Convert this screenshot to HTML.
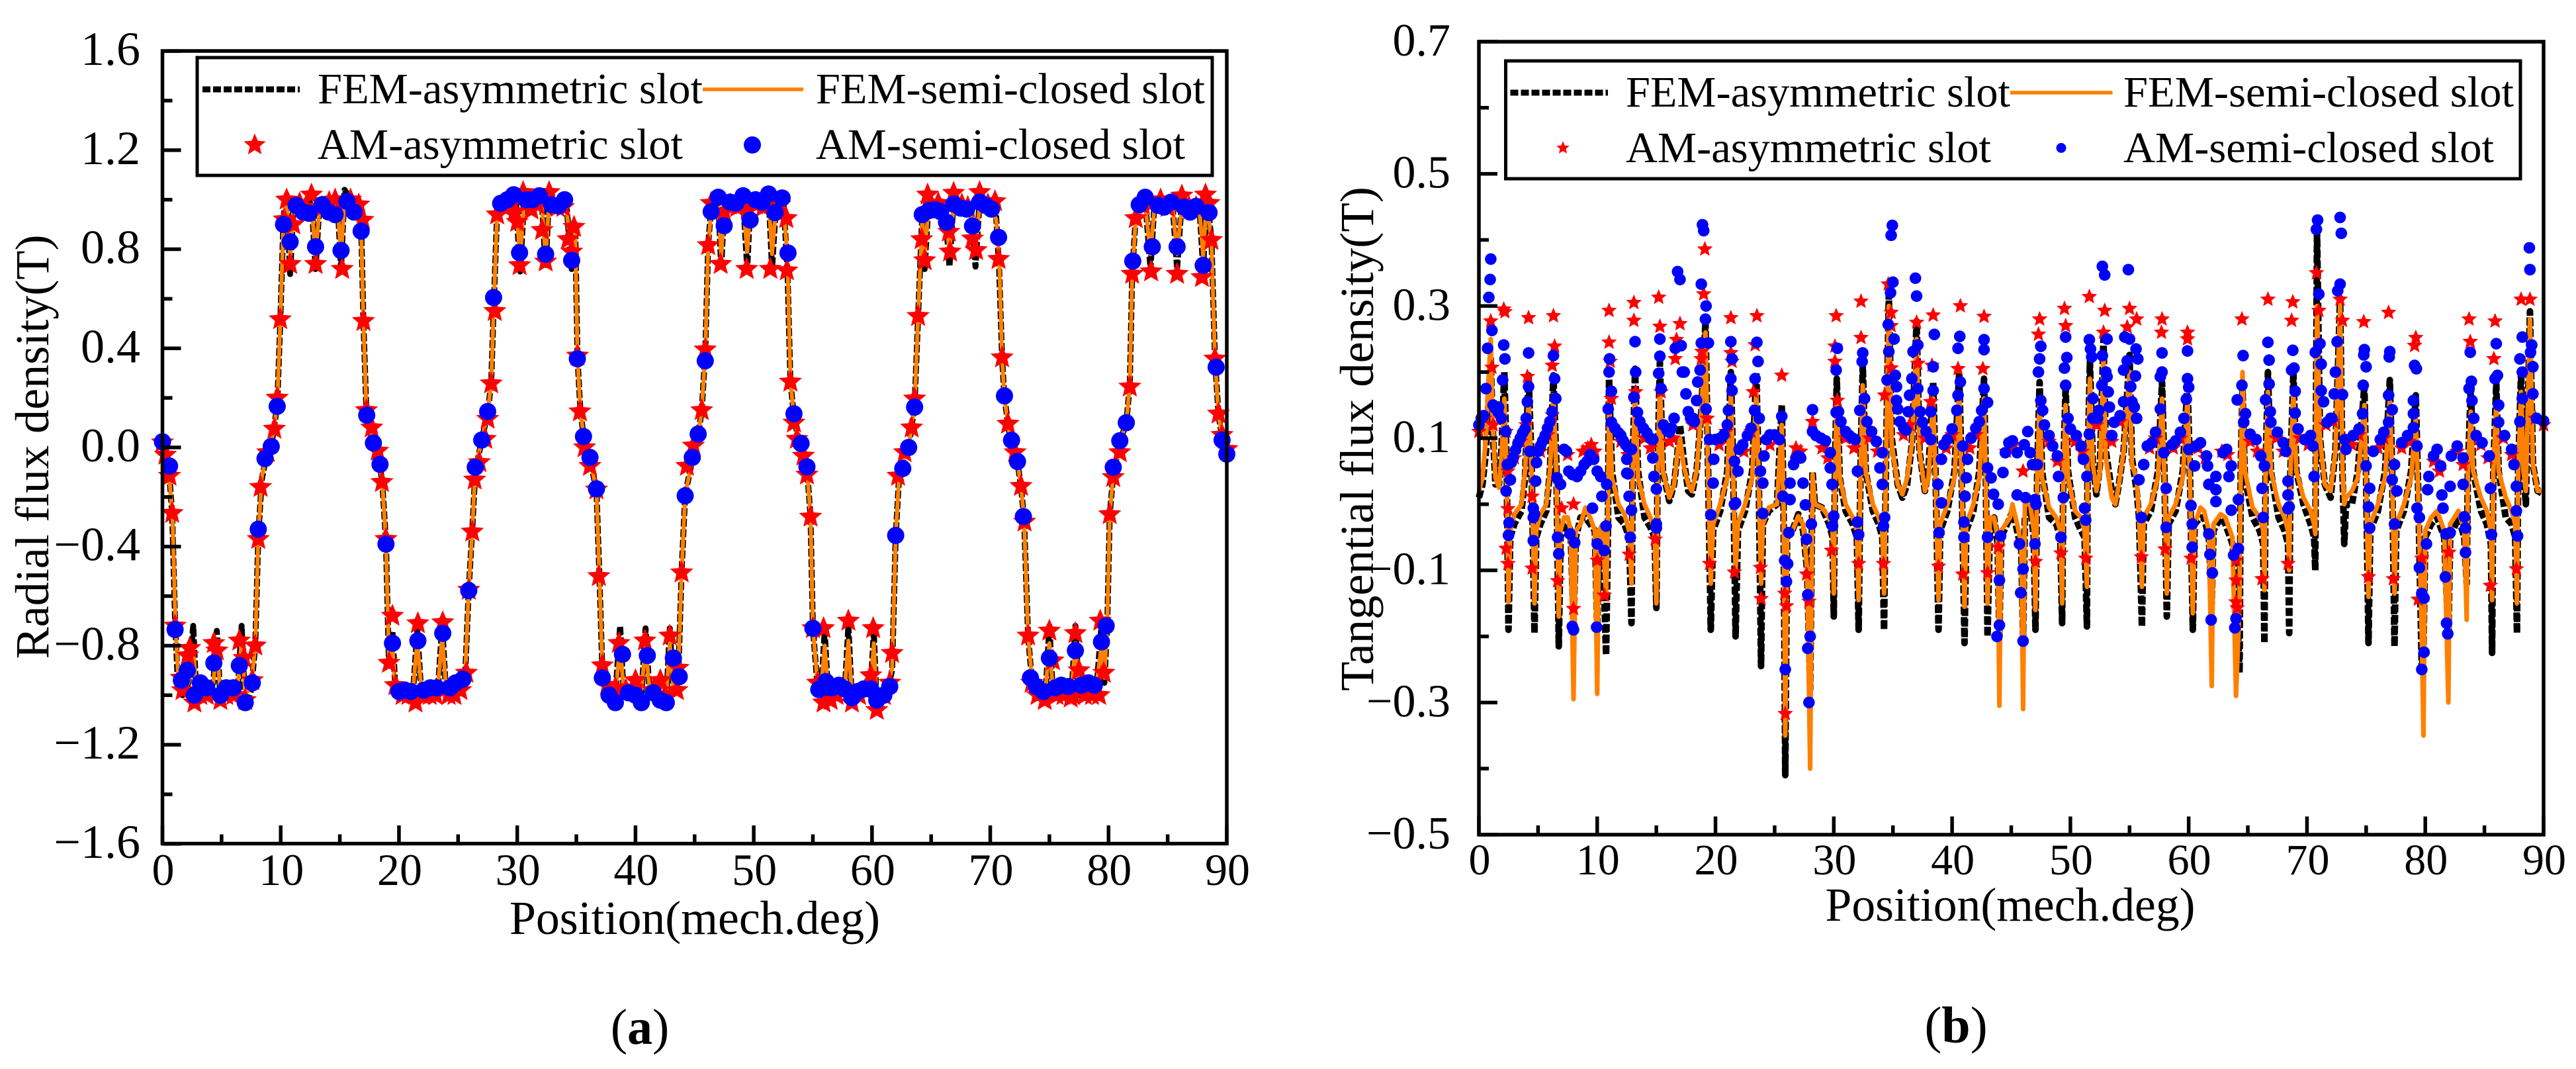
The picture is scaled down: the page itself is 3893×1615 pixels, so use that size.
<!DOCTYPE html>
<html lang="en">
<head>
<meta charset="utf-8">
<title>Radial and tangential flux density</title>
<style>
html,body{margin:0;padding:0;background:#fff;}
svg{display:block;}
text{font-family:"Liberation Serif","Times New Roman",serif;fill:#000;}
</style>
</head>
<body>
<svg id="fig" xmlns="http://www.w3.org/2000/svg" width="3893" height="1615" viewBox="0 0 3893 1615">
<rect width="3893" height="1615" fill="#fff"/>

<g id="chartA">
<g id="plotA"></g>
<rect x="245.5" y="77" width="1608.5" height="1197.5" fill="none" stroke="#000" stroke-width="5.5"/>
<g id="axesA"></g>
<text x="73" y="675" font-size="72" text-anchor="middle" textLength="641" lengthAdjust="spacingAndGlyphs" transform="rotate(-90 73 675)">Radial flux density(T)</text>
<text x="1050" y="1411" font-size="72" text-anchor="middle" textLength="560" lengthAdjust="spacingAndGlyphs">Position(mech.deg)</text>
<g>
<rect x="298" y="87" width="1534" height="178" fill="#fff" stroke="#000" stroke-width="5"/>
<line x1="306" y1="135" x2="453" y2="135" stroke="#000" stroke-width="9" stroke-dasharray="12 4"/>
<text x="480" y="156" font-size="66" textLength="582" lengthAdjust="spacingAndGlyphs">FEM-asymmetric slot</text>
<line x1="1062" y1="135" x2="1214" y2="135" stroke="#ff8000" stroke-width="5.5"/>
<text x="1233" y="156" font-size="66" textLength="588" lengthAdjust="spacingAndGlyphs">FEM-semi-closed slot</text>
<polygon id="legendStarA" fill="#ff0000" stroke="#ff0000" stroke-width="1.5"/>
<text x="480" y="240" font-size="66" textLength="552" lengthAdjust="spacingAndGlyphs">AM-asymmetric slot</text>
<circle cx="1137" cy="219" r="13" fill="#0000ff"/>
<text x="1233" y="240" font-size="66" textLength="558" lengthAdjust="spacingAndGlyphs">AM-semi-closed slot</text>
</g>
<text x="967" y="1577" font-size="76" text-anchor="middle">(<tspan font-weight="bold">a</tspan>)</text>
</g>

<g id="chartB">
<g id="plotB"></g>
<rect x="2235" y="63" width="1609" height="1198" fill="none" stroke="#000" stroke-width="5.5"/>
<g id="axesB"></g>
<text x="2075" y="663" font-size="72" text-anchor="middle" textLength="762" lengthAdjust="spacingAndGlyphs" transform="rotate(-90 2075 663)">Tangential flux density(T)</text>
<text x="3038" y="1391" font-size="72" text-anchor="middle" textLength="559" lengthAdjust="spacingAndGlyphs">Position(mech.deg)</text>
<g>
<rect x="2275.5" y="92" width="1533.5" height="178" fill="#fff" stroke="#000" stroke-width="5"/>
<line x1="2282.5" y1="140" x2="2430" y2="140" stroke="#000" stroke-width="9" stroke-dasharray="12 4"/>
<text x="2457" y="161" font-size="66" textLength="581" lengthAdjust="spacingAndGlyphs">FEM-asymmetric slot</text>
<line x1="3038" y1="140" x2="3192.6" y2="140" stroke="#ff8000" stroke-width="5.5"/>
<text x="3209" y="161" font-size="66" textLength="590" lengthAdjust="spacingAndGlyphs">FEM-semi-closed slot</text>
<polygon id="legendStarB" fill="#ff0000" stroke="#ff0000" stroke-width="1"/>
<text x="2457" y="245" font-size="66" textLength="552" lengthAdjust="spacingAndGlyphs">AM-asymmetric slot</text>
<circle cx="3115" cy="223.5" r="7.5" fill="#0000ff"/>
<text x="3209" y="245" font-size="66" textLength="560" lengthAdjust="spacingAndGlyphs">AM-semi-closed slot</text>
</g>
<text x="2956" y="1575" font-size="78" text-anchor="middle">(<tspan font-weight="bold">b</tspan>)</text>
</g>
</svg>

<script>
/* ---------- shared axis labels ---------- */
const xTickValues = [0,10,20,30,40,50,60,70,80,90];
const xMinorValues = [5,15,25,35,45,55,65,75,85];
const yTicksA = [1.6,1.2,0.8,0.4,0,-0.4,-0.8,-1.2,-1.6];
const yMinorA = [1.4,1,0.6,0.2,-0.2,-0.6,-1,-1.4];
const yTicksB = [0.7,0.5,0.3,0.1,-0.1,-0.3,-0.5];
const yMinorB = [0.6,0.4,0.2,0,-0.2,-0.4];

/* ---------- chart (a): radial flux density, [position, value] ---------- */
const femAsymA = [[0,.02],[.3,-.04],[.6,-.12],[.82,-.27],[1.07,-.7],[1.3,-.95],[1.7,-1],[2.2,-.95],[2.6,-.72],[2.9,-1.03],[3.6,-1],[4.3,-.95],[4.6,-.74],[4.9,-1.02],[5.7,-1],[6.4,-.95],[6.7,-.72],[7,-1.05],[7.5,-.98],[7.85,-.8],[8.1,-.36],[8.4,-.13],[8.8,-.03],[9.2,0],[9.7,.17],[9.96,.5],[10.24,.93],[10.5,1.02],[10.8,.7],[11.1,1],[12,.98],[12.6,1],[12.95,.72],[13.3,1],[14.1,.97],[14.8,1],[15.1,.72],[15.4,1.04],[16.2,.98],[16.8,.9],[17,.5],[17.25,.14],[17.8,.02],[18.4,-.07],[18.6,-.15],[18.9,-.38],[19.15,-.88],[19.45,-.74],[19.7,-.98],[20.6,-1],[21.2,-.98],[21.55,-.74],[21.9,-1],[22.8,-.98],[23.3,-.97],[23.65,-.72],[24,-1],[25,-.97],[25.6,-.92],[25.9,-.57],[26.2,-.33],[26.45,-.1],[27,.03],[27.5,.14],[27.8,.26],[28,.55],[28.3,.95],[29.5,1],[29.9,.98],[30.25,.71],[30.6,1.02],[31.6,1],[32.1,.98],[32.4,.72],[32.7,1.03],[33.6,.98],[34.2,.96],[34.6,.72],[34.9,.9],[35.1,.36],[35.35,.14],[35.7,.02],[36.15,-.05],[36.7,-.17],[36.95,-.52],[37.2,-.9],[37.7,-1.02],[38.3,-1],[38.7,-.72],[39,-1],[39.9,-1],[40.5,-1],[40.85,-.73],[41.2,-1],[42,-1.02],[42.6,-1.03],[42.9,-.73],[43.2,-.98],[43.6,-.95],[43.9,-.5],[44.2,-.19],[44.8,-.05],[45.3,.05],[45.6,.15],[45.9,.38],[46.15,.82],[46.4,.97],[47,1],[47.25,.72],[47.5,.98],[48.5,.98],[49.1,1],[49.45,.72],[49.7,.98],[50.6,.99],[51.25,1.02],[51.55,.72],[51.9,1],[52.5,1],[52.85,.72],[53.1,.27],[53.4,.12],[53.8,.03],[54.5,-.08],[54.8,-.28],[55,-.73],[55.4,-.97],[55.7,-.98],[56,-.74],[56.3,-1],[57.2,-.98],[57.7,-.98],[58,-.72],[58.3,-1.02],[59.3,-.98],[59.9,-.97],[60.15,-.74],[60.4,-1.05],[61.2,-1],[61.7,-.9],[62,-.36],[62.3,-.11],[62.75,-.03],[63.1,0],[63.6,.17],[63.9,.53],[64.25,.94],[64.45,.72],[64.8,1],[65.6,.97],[66.2,.95],[66.55,.73],[66.9,1],[68,.97],[68.4,.95],[68.75,.73],[69.1,1],[70.1,.97],[70.5,.93],[70.75,.72],[71,.36],[71.2,.2],[71.7,.03],[72.3,-.06],[72.6,-.16],[72.85,-.28],[73.2,-.76],[73.5,-.93],[74.2,-.98],[74.7,-.97],[75,-.72],[75.3,-1],[76.3,-.98],[76.9,-.97],[77.2,-.72],[77.5,-1],[78.4,-.98],[79,-.96],[79.4,-.72],[79.65,-.95],[79.9,-.7],[80.1,-.27],[80.4,-.11],[80.95,.02],[81.5,.1],[81.8,.25],[82,.7],[82.3,.93],[83.1,1],[83.55,.72],[83.9,1],[84.9,.98],[85.4,.99],[85.8,.72],[86.2,1],[87.2,.98],[87.7,.96],[88,.72],[88.3,1.02],[88.7,.84],[89,.36],[89.3,.13],[89.6,.04],[90,-.02]];
const femSemiA = [[0,.02],[.3,-.05],[.6,-.13],[.85,-.28],[1.1,-.72],[1.35,-.94],[1.7,-.98],[2.2,-.95],[2.6,-.8],[2.9,-1],[3.6,-.98],[4.3,-.95],[4.6,-.79],[4.9,-1],[5.7,-.98],[6.4,-.94],[6.7,-.78],[7,-1],[7.5,-.96],[7.85,-.8],[8.1,-.36],[8.4,-.12],[8.8,-.03],[9.2,.01],[9.7,.17],[9.96,.5],[10.24,.92],[10.5,1],[10.8,.76],[11.1,.98],[12,.97],[12.6,.98],[12.95,.77],[13.3,.98],[14.1,.96],[14.8,.98],[15.1,.77],[15.4,1],[16.2,.96],[16.8,.88],[17,.5],[17.25,.14],[17.8,.02],[18.4,-.07],[18.6,-.15],[18.9,-.38],[19.15,-.86],[19.45,-.8],[19.7,-.97],[20.6,-.98],[21.2,-.97],[21.55,-.78],[21.9,-.98],[22.8,-.97],[23.3,-.96],[23.65,-.76],[24,-.98],[25,-.96],[25.6,-.92],[25.9,-.57],[26.2,-.33],[26.45,-.09],[27,.03],[27.5,.14],[27.8,.26],[28,.55],[28.3,.94],[29.5,.99],[29.9,.97],[30.25,.76],[30.6,1],[31.6,.99],[32.1,.97],[32.4,.76],[32.7,1],[33.6,.97],[34.2,.95],[34.6,.76],[34.9,.88],[35.1,.36],[35.35,.14],[35.7,.02],[36.15,-.05],[36.7,-.17],[36.95,-.52],[37.2,-.89],[37.7,-1],[38.3,-.99],[38.7,-.8],[39,-.98],[39.9,-.98],[40.5,-.98],[40.85,-.8],[41.2,-.98],[42,-1],[42.6,-1.01],[42.9,-.79],[43.2,-.97],[43.6,-.94],[43.9,-.5],[44.2,-.19],[44.8,-.05],[45.3,.05],[45.6,.15],[45.9,.38],[46.15,.81],[46.4,.96],[47,.98],[47.25,.77],[47.5,.96],[48.5,.97],[49.1,.98],[49.45,.79],[49.7,.96],[50.6,.98],[51.25,1],[51.55,.78],[51.9,.98],[52.5,.98],[52.85,.77],[53.1,.27],[53.4,.12],[53.8,.03],[54.5,-.08],[54.8,-.28],[55,-.73],[55.4,-.96],[55.7,-.97],[56,-.8],[56.3,-.98],[57.2,-.97],[57.7,-.97],[58,-.78],[58.3,-1],[59.3,-.97],[59.9,-.96],[60.15,-.79],[60.4,-1.02],[61.2,-.99],[61.7,-.89],[62,-.36],[62.3,-.11],[62.75,-.03],[63.1,0],[63.6,.17],[63.9,.53],[64.25,.93],[64.45,.77],[64.8,.98],[65.6,.96],[66.2,.94],[66.55,.79],[66.9,.98],[68,.96],[68.4,.94],[68.75,.79],[69.1,.98],[70.1,.96],[70.5,.92],[70.75,.76],[71,.36],[71.2,.2],[71.7,.03],[72.3,-.06],[72.6,-.16],[72.85,-.28],[73.2,-.76],[73.5,-.92],[74.2,-.97],[74.7,-.96],[75,-.79],[75.3,-.98],[76.3,-.97],[76.9,-.96],[77.2,-.79],[77.5,-.98],[78.4,-.97],[79,-.95],[79.4,-.8],[79.65,-.93],[79.9,-.7],[80.1,-.27],[80.4,-.11],[80.95,.02],[81.5,.1],[81.8,.25],[82,.7],[82.3,.92],[83.1,.98],[83.55,.78],[83.9,.98],[84.9,.97],[85.4,.98],[85.8,.78],[86.2,.98],[87.2,.97],[87.7,.95],[88,.77],[88.3,1],[88.7,.83],[89,.36],[89.3,.13],[89.6,.04],[90,-.02]];
const amAsymA = [[0,.02],[.25,-.03],[.6,-.115],[.82,-.265],[1.07,-.72],[1.6,-.93],[1.7,-.98],[2.14,-.84],[2.3,-.81],[2.7,-1.03],[3.2,-1],[3.75,-1],[4.35,-.79],[4.6,-.82],[4.9,-1.02],[5.4,-1],[6,-1],[6.5,-.78],[6.9,-.85],[7,-1.02],[7.6,-.94],[7.85,-.8],[8.1,-.37],[8.3,-.16],[8.9,-.02],[9.46,.075],[9.7,.2],[9.96,.517],[10.3,.92],[10.5,1],[10.8,.74],[11.06,.9],[11.6,.985],[12.1,.97],[12.6,1.02],[12.95,.74],[13.5,.97],[14.1,.99],[14.6,1],[15.2,.72],[15.9,1],[16.6,.98],[16.95,.918],[17,.51],[17.25,.15],[17.7,.08],[18.2,-.014],[18.56,-.14],[18.9,-.37],[19.16,-.87],[19.45,-.68],[19.7,-.96],[20.3,-1],[20.8,-1],[21.4,-1.03],[21.6,-.71],[22,-1],[22.6,-1],[23.1,-1],[23.7,-.706],[24.2,-1],[24.7,-1],[25.2,-.98],[25.7,-.91],[25.9,-.575],[26.2,-.34],[26.4,-.13],[26.8,-.06],[27.3,.034],[27.5,.115],[27.8,.258],[28.1,.55],[28.3,.94],[28.9,.97],[29.4,.98],[29.8,.952],[30,.91],[30.2,.735],[30.5,1.03],[31.2,.96],[31.7,.98],[32.1,.877],[32.4,.75],[32.7,1.03],[33.4,.97],[33.9,.97],[34.3,.84],[34.6,.79],[34.8,.89],[35.1,.37],[35.3,.145],[35.7,0],[36.15,-.075],[36.7,-.17],[36.9,-.52],[37.2,-.88],[37.6,-.96],[38.3,-.97],[38.6,-.79],[39.2,-.98],[39.8,-.97],[40,-.94],[40.8,-.78],[41.5,-.98],[42.1,-.94],[42.5,-1],[42.9,-.76],[43.5,-.98],[43.6,-.89],[43.9,-.505],[44.35,-.075],[44.9,.007],[45.6,.15],[45.9,.395],[46.15,.816],[46.4,.986],[47.2,.74],[47.5,.95],[48,.98],[48.6,.97],[49,.98],[49.4,.72],[49.5,.96],[50.2,.98],[50.8,.97],[51.4,.72],[51.6,.986],[52.2,.98],[52.75,.925],[52.8,.714],[53.1,.265],[53.4,.1],[53.65,.034],[54.2,-.034],[54.5,-.11],[54.8,-.28],[55,-.73],[55.4,-.95],[55.9,-.73],[55.9,-1.03],[56.5,-1.02],[57,-1],[57.6,-.98],[58,-.7],[58.3,-1.03],[58.9,-1],[59.4,-.98],[59.9,-.92],[60.1,-.73],[60.4,-1.06],[61,-1],[61.5,-.95],[61.7,-.83],[62.2,-.115],[62.75,-.02],[63.35,.08],[63.6,.197],[63.9,.53],[64.2,.84],[64.45,.755],[64.7,1.02],[65,.98],[65.6,.986],[66.5,.87],[66.6,.79],[66.9,1.027],[67.6,.98],[68.1,.97],[68.5,.843],[68.8,.796],[69.1,1.03],[69.8,.98],[70.4,.993],[70.7,.76],[71,.363],[71.5,.095],[72.1,-.02],[72.6,-.156],[72.9,-.3],[73.2,-.76],[73.5,-.95],[74,-1],[74.6,-1.02],[75,-.74],[75.3,-.86],[75.6,-1],[76.2,-1],[76.8,-1.01],[77,-1],[77.2,-.75],[77.5,-.9],[78,-1],[78.6,-1],[79.2,-1],[79.3,-.7],[79.6,-.91],[80.1,-.27],[80.4,-.12],[80.95,-.02],[81.8,.245],[82,.7],[82.3,.925],[82.9,.98],[83.6,.986],[83.6,.71],[84.4,1],[85,.97],[85.5,.98],[85.8,.7],[86.2,1.016],[86.8,.97],[87.4,.97],[87.9,.687],[88.2,1.02],[88.5,.986],[88.7,.837],[89,.358],[89.3,.136],[89.6,.05],[90,-.007]];
const amSemiA = [[0,.023],[.6,-.075],[1.07,-.735],[1.6,-.94],[2.1,-.9],[2.7,-1],[3.2,-.95],[3.75,-.97],[4.35,-.87],[4.9,-1],[5.4,-.97],[6,-.97],[6.5,-.88],[7,-1.03],[7.6,-.95],[8.1,-.33],[8.67,-.045],[9.2,.004],[9.7,.166],[10.24,.9],[10.8,.83],[11.3,.977],[11.9,.95],[12.4,.945],[12.95,.81],[13.5,.98],[14.06,.95],[14.6,.94],[15.1,.795],[15.6,.993],[16.2,.95],[16.8,.873],[17.27,.13],[17.84,.018],[18.4,-.068],[18.9,-.39],[19.45,-.79],[20,-.985],[20.5,-.98],[21,-.985],[21.6,-.78],[22.1,-.98],[22.65,-.97],[23.2,-.97],[23.7,-.75],[24.3,-.97],[24.8,-.95],[25.4,-.935],[25.9,-.578],[26.45,-.08],[27,.03],[27.5,.145],[28,.605],[28.6,.985],[29.16,1],[29.7,1.02],[30.2,.786],[30.76,1],[31.3,1],[31.87,1.016],[32.4,.78],[32.9,.98],[33.5,.975],[34,1],[34.6,.755],[35.08,.358],[35.6,.044],[36.15,-.04],[36.7,-.167],[37.2,-.93],[37.76,-1],[38.3,-1.03],[38.9,-.835],[39.4,-.99],[40,-1],[40.5,-1.03],[41,-.84],[41.5,-.99],[42.1,-1.02],[42.6,-1.03],[43.2,-.85],[43.7,-.925],[44.2,-.195],[44.8,-.04],[45.3,.054],[45.9,.35],[46.4,.952],[47,1.01],[47.5,.895],[48,.99],[48.5,.986],[49.1,1.016],[49.7,.918],[50.15,1],[50.7,.99],[51.25,1.023],[51.8,.948],[52.4,1.007],[52.9,.785],[53.4,.136],[54,.016],[54.5,-.078],[55,-.73],[55.5,-.977],[56.1,-.945],[56.6,-.97],[57.2,-.96],[57.7,-.975],[58.3,-1.01],[58.8,-.985],[59.3,-.975],[59.9,-.975],[60.4,-1.02],[61,-1],[61.5,-.965],[62,-.355],[62.6,-.085],[63.1,0],[63.6,.163],[64.25,.94],[64.8,.956],[65.3,.96],[65.8,.952],[66.3,.909],[66.9,.982],[67.5,.966],[68,.962],[68.5,.894],[69.1,.99],[69.6,.977],[70.1,.962],[70.7,.848],[71.2,.208],[71.8,.029],[72.3,-.057],[72.8,-.279],[73.4,-.93],[73.9,-.965],[74.5,-.985],[75,-.85],[75.5,-.97],[76,-.96],[76.6,-.965],[77.2,-.82],[77.7,-.96],[78.3,-.95],[78.8,-.96],[79.4,-.785],[79.8,-.72],[80.4,-.08],[80.95,.027],[81.5,.1],[82.05,.752],[82.6,.98],[83.1,1.01],[83.7,.81],[84.2,.977],[84.7,.97],[85.3,.99],[85.8,.81],[86.4,.97],[86.9,.95],[87.4,.973],[88,.735],[88.5,.948],[89.1,.324],[89.6,.03],[90,-.027]];

/* ---------- chart (b): tangential flux density, [position, value] ---------- */
const femAsymB = [[0,.01],[.3,.03],[.6,.08],[.85,.17],[1,.22],[1.15,.12],[1.4,.03],[1.7,.03],[1.9,.08],[2.15,.2],[2.35,.06],[2.5,-.19],[2.65,-.05],[3,-.03],[3.6,-.01],[3.9,.04],[4.2,.195],[4.45,.06],[4.7,-.195],[4.85,-.05],[5.2,-.03],[5.7,-.01],[6,.05],[6.3,.195],[6.55,.06],[6.75,-.215],[6.9,-.05],[7.2,-.035],[7.5,-.03],[7.75,-.04],[8,-.18],[8.2,-.05],[8.6,-.02],[9,-.02],[9.4,-.03],[9.8,-.04],[10,-.19],[10.15,-.05],[10.45,-.05],[10.75,-.228],[10.9,-.05],[11,.19],[11.25,.05],[11.8,-.02],[12.3,-.03],[12.7,-.05],[12.9,-.18],[13,.06],[13.2,.205],[13.45,.05],[14,-.02],[14.5,-.035],[14.85,-.05],[15,-.157],[15.1,.05],[15.3,.215],[15.55,.05],[16.1,.005],[16.5,.03],[16.8,.08],[17,.12],[17.3,.07],[17.7,.02],[18,.015],[18.4,.05],[18.8,.14],[19.15,.277],[19.35,.08],[19.6,-.19],[19.8,-.04],[20.4,-.01],[21,.05],[21.3,.2],[21.5,.05],[21.7,-.2],[21.9,-.04],[22.5,-.01],[23.1,.05],[23.45,.2],[23.65,.05],[23.85,-.245],[24,-.03],[24.5,-.01],[25.2,0],[25.6,.15],[25.75,0],[25.9,-.41],[26.05,-.05],[26.5,-.04],[27,-.015],[27.4,-.04],[27.75,-.1],[28,-.28],[28.2,.05],[28.4,0],[29,-.005],[29.6,-.03],[29.9,-.05],[30,-.17],[30.1,.05],[30.25,.19],[30.5,.04],[31,-.01],[31.6,-.03],[31.95,-.05],[32.1,-.19],[32.25,.05],[32.45,.21],[32.7,.05],[33.3,-.01],[33.8,-.03],[34.1,-.05],[34.25,-.19],[34.4,.05],[34.65,.317],[34.9,.1],[35.4,.03],[35.8,.01],[36.2,.03],[36.6,.09],[37,.277],[37.25,.08],[37.7,.02],[38,.05],[38.4,.185],[38.6,.05],[38.85,-.19],[39,-.04],[39.6,-.01],[40.2,.05],[40.6,.2],[40.8,.05],[41.05,-.21],[41.2,-.04],[41.8,-.01],[42.3,.05],[42.7,.19],[42.85,.04],[43,-.2],[43.2,-.03],[43.55,-.02],[43.85,-.06],[44,-.2],[44.15,-.05],[44.9,-.02],[45.1,-.01],[45.5,-.04],[45.85,-.07],[46,-.2],[46.15,-.02],[46.6,0],[46.9,-.05],[47.05,-.19],[47.2,.05],[47.4,.185],[47.6,.05],[48.2,-.02],[48.8,-.03],[49.15,-.05],[49.3,-.18],[49.4,.05],[49.6,.18],[49.8,.05],[50.4,-.02],[50.9,-.04],[51.2,-.05],[51.4,-.185],[51.45,.05],[51.65,.216],[51.9,.06],[52.2,.015],[52.5,.06],[52.8,.25],[53,.08],[53.5,.02],[53.8,0],[54.1,.03],[54.5,.08],[55,.226],[55.2,.07],[55.6,.02],[55.8,-.02],[56.05,-.185],[56.2,-.03],[56.8,-.01],[57.4,.05],[57.75,.185],[57.95,.05],[58.15,-.17],[58.3,-.03],[58.9,-.01],[59.5,.05],[59.9,.185],[60.1,.05],[60.35,-.19],[60.5,-.03],[61,-.02],[61.3,-.02],[61.7,-.05],[61.95,-.15],[62.1,-.04],[62.7,-.02],[63.1,-.03],[63.7,-.06],[64,-.12],[64.3,-.255],[64.4,.05],[64.55,.175],[64.75,.04],[65.4,-.02],[66,-.04],[66.3,-.06],[66.4,-.21],[66.5,.05],[66.7,.2],[66.95,.05],[67.6,-.02],[68.1,-.04],[68.4,-.06],[68.5,-.195],[68.6,.05],[68.85,.2],[69.1,.05],[69.7,0],[70.3,-.03],[70.6,-.05],[70.7,-.1],[70.75,.1],[70.85,.415],[71.1,.1],[71.5,.03],[72,.01],[72.4,.08],[72.8,.312],[73,.05],[73.15,-.06],[73.3,0],[73.8,0],[74.3,.05],[74.85,.18],[75,.04],[75.2,-.21],[75.35,-.04],[76,-.01],[76.6,.05],[77,.188],[77.2,.05],[77.4,-.215],[77.55,-.04],[78.2,-.01],[78.8,.05],[79.2,.165],[79.4,.02],[79.7,-.25],[79.85,-.22],[80,-.05],[80.5,-.03],[81,-.02],[81.6,-.05],[81.95,-.2],[82.1,-.05],[82.8,-.02],[83.3,-.05],[83.5,-.12],[83.6,.05],[83.85,.18],[84.05,.05],[84.7,-.01],[85.2,-.03],[85.55,-.06],[85.65,-.225],[85.75,.05],[86,.183],[86.2,.05],[86.8,-.02],[87.3,-.03],[87.6,-.05],[87.75,-.195],[87.85,.05],[88.1,.2],[88.3,.05],[88.5,0],[88.85,.292],[89.1,.06],[89.5,.02],[90,.015]];
const femSemiB = [[0,.02],[.3,.04],[.6,.1],[.85,.2],[1,.25],[1.15,.13],[1.4,.04],[1.7,.025],[1.9,.07],[2.15,.16],[2.35,.05],[2.5,-.148],[2.65,-.04],[3,-.015],[3.6,0],[3.9,.05],[4.2,.16],[4.45,.05],[4.7,-.15],[4.85,-.04],[5.2,-.015],[5.7,0],[6,.05],[6.3,.165],[6.55,.05],[6.75,-.17],[6.9,-.04],[7.2,-.02],[7.5,-.02],[7.75,-.04],[8,-.295],[8.2,-.04],[8.6,-.03],[9,-.005],[9.4,-.02],[9.8,-.04],[10,-.287],[10.15,-.04],[10.45,-.03],[10.75,-.14],[10.9,-.03],[11,.16],[11.25,.04],[11.8,0],[12.3,-.015],[12.7,-.04],[12.9,-.12],[13,.05],[13.2,.17],[13.45,.04],[14,0],[14.5,-.02],[14.85,-.04],[15,-.15],[15.1,.04],[15.3,.18],[15.55,.05],[16.1,.01],[16.5,.03],[16.8,.08],[17,.1],[17.3,.06],[17.7,.03],[18,.02],[18.4,.05],[18.8,.14],[19.15,.26],[19.35,.07],[19.6,-.12],[19.8,-.03],[20.4,0],[21,.04],[21.3,.17],[21.5,.04],[21.7,-.1],[21.9,-.03],[22.5,0],[23.1,.04],[23.45,.17],[23.65,.04],[23.85,-.12],[24,-.03],[24.5,-.005],[25.2,0],[25.6,.12],[25.75,0],[25.9,-.35],[26.05,-.05],[26.5,-.04],[27,-.018],[27.4,-.03],[27.75,-.1],[28,-.4],[28.2,.045],[28.4,0],[29,-.005],[29.6,-.02],[29.9,-.04],[30,-.135],[30.1,.04],[30.25,.16],[30.5,.04],[31,0],[31.6,-.02],[31.95,-.04],[32.1,-.145],[32.25,.04],[32.45,.18],[32.7,.05],[33.3,0],[33.8,-.02],[34.1,-.04],[34.25,-.135],[34.4,.05],[34.65,.3],[34.9,.09],[35.4,.03],[35.8,.015],[36.2,.04],[36.6,.09],[37,.25],[37.25,.08],[37.7,.02],[38,.04],[38.4,.16],[38.6,.04],[38.85,-.145],[39,-.03],[39.6,0],[40.2,.04],[40.6,.17],[40.8,.04],[41.05,-.155],[41.2,-.03],[41.8,0],[42.3,.04],[42.7,.16],[42.85,.03],[43,-.15],[43.2,-.02],[43.55,-.02],[43.85,-.05],[44,-.305],[44.15,-.04],[44.9,-.02],[45.1,0],[45.5,-.03],[45.85,-.06],[46,-.31],[46.15,0],[46.6,0],[46.9,-.04],[47.05,-.16],[47.2,.04],[47.4,.16],[47.6,.04],[48.2,-.005],[48.8,-.02],[49.15,-.04],[49.3,-.15],[49.4,.04],[49.6,.15],[49.8,.04],[50.4,-.01],[50.9,-.02],[51.2,-.04],[51.4,-.125],[51.45,.05],[51.65,.19],[51.9,.06],[52.2,.02],[52.5,.05],[52.8,.22],[53,.07],[53.5,.01],[53.8,0],[54.1,.03],[54.5,.08],[55,.2],[55.2,.06],[55.6,.04],[55.8,-.02],[56.05,-.125],[56.2,-.02],[56.8,0],[57.4,.04],[57.75,.16],[57.95,.04],[58.15,-.135],[58.3,-.02],[58.9,0],[59.5,.04],[59.9,.16],[60.1,.04],[60.35,-.165],[60.5,-.03],[61,-.005],[61.3,-.01],[61.7,-.04],[61.95,-.275],[62.1,-.03],[62.7,-.015],[63.1,-.02],[63.7,-.05],[64,-.29],[64.3,-.15],[64.4,.05],[64.55,.2],[64.75,.05],[65.4,-.005],[66,-.02],[66.3,-.04],[66.4,-.13],[66.5,.05],[66.7,.17],[66.95,.05],[67.6,0],[68.1,-.02],[68.4,-.04],[68.5,-.1],[68.6,.05],[68.85,.17],[69.1,.05],[69.7,.01],[70.3,-.01],[70.6,-.03],[70.7,-.045],[70.75,.1],[70.85,.3],[71.1,.1],[71.5,.03],[72,.02],[72.4,.08],[72.8,.3],[73,.05],[73.15,0],[73.3,.01],[73.8,.02],[74.3,.04],[74.85,.15],[75,.04],[75.2,-.14],[75.35,-.03],[76,0],[76.6,.04],[77,.16],[77.2,.04],[77.4,-.135],[77.55,-.03],[78.2,0],[78.8,.04],[79.2,.13],[79.4,.02],[79.7,-.2],[79.85,-.35],[80,-.04],[80.5,-.02],[81,-.01],[81.6,-.04],[81.95,-.3],[82.1,-.03],[82.8,-.01],[83.3,-.04],[83.5,-.175],[83.6,.05],[83.85,.14],[84.05,.05],[84.7,.01],[85.2,-.01],[85.55,-.04],[85.65,-.145],[85.75,.05],[86,.15],[86.2,.05],[86.8,.01],[87.3,-.01],[87.6,-.03],[87.75,-.15],[87.85,.05],[88.1,.17],[88.3,.05],[88.5,.02],[88.85,.28],[89.1,.06],[89.5,.02],[90,.02]];
const amAsymB = [[0,.11],[.5,.13],[1,.277],[1.1,.207],[1.2,.12],[2.1,.295],[2.2,.291],[2.3,.11],[2.45,.05],[2.45,-.007],[2.3,-.067],[2.45,-.09],[3,.07],[3.5,.095],[4,.12],[4.1,.193],[4.2,.282],[4.5,.012],[4.5,-.097],[5.2,.08],[5.8,.105],[6.2,.135],[6.2,.21],[6.3,.285],[6.4,.239],[6.65,-.116],[7,-.006],[7.5,.075],[8,0],[8,-.158],[8.8,.08],[9.2,.085],[9.5,.09],[9.8,.08],[10,-.085],[10.6,-.138],[11,.293],[11,.245],[11.1,.216],[11.2,.16],[12,.095],[12.6,.075],[12.7,-.076],[13.1,.305],[13.1,.278],[13.25,.17],[14,.1],[14.5,.085],[14.9,-.053],[15.2,.313],[15.3,.269],[15.4,.17],[16.1,.095],[16.4,.1],[16.6,.22],[16.7,.249],[17,.273],[18.1,.12],[18.8,.22],[18.85,.231],[19,.318],[19.1,.386],[19.3,.13],[19.5,-.09],[20.3,.09],[20.9,.11],[21.3,.282],[21.3,.229],[21.4,.216],[21.6,-.103],[22.4,.08],[23,.11],[23.2,.17],[23.35,.241],[23.5,.285],[23.8,-.096],[23.85,-.143],[24.6,.09],[25.2,.1],[25.6,.195],[25.85,-.135],[25.9,-.317],[26,-.154],[26.8,.085],[27.2,.08],[27.7,-.106],[27.9,-.147],[28.2,.125],[29,.085],[29.5,.07],[29.8,-.07],[30.1,.239],[30.1,.216],[30.2,.285],[30.3,.157],[31,.1],[31.7,.085],[32.1,-.09],[32.3,.307],[32.3,.252],[33,.1],[33.7,.08],[34.2,-.09],[34.3,.165],[34.6,.333],[34.85,.29],[34.85,.27],[34.85,.206],[35.9,.105],[36.4,.12],[37,.275],[37.1,.213],[37.7,.1],[38.2,.155],[38.3,.21],[38.4,.286],[38.85,-.094],[39.5,.085],[40,.105],[40.5,.205],[40.7,.3],[40.9,-.106],[41.5,.085],[42,.105],[42.6,.205],[42.7,.284],[43,-.104],[43.9,-.065],[44.6,.08],[45.2,.09],[46,.05],[47.05,-.087],[47.3,.257],[47.4,.28],[48.2,.095],[48.9,.065],[49.2,-.074],[49.5,.296],[49.6,.27],[50.4,.095],[51,.08],[51.3,-.082],[51.6,.314],[52.2,.12],[52.8,.26],[52.9,.293],[53.5,.095],[54.2,.125],[54.8,.268],[55,.296],[55.6,.28],[56,-.08],[56.7,.085],[57.2,.1],[57.7,.26],[57.75,.28],[58,-.068],[58.7,.085],[59.3,.1],[59.9,.26],[59.9,.25],[60.2,-.082],[60.8,.085],[61.4,.07],[62.8,.08],[63.3,.075],[64,-.085],[64,-.115],[64,-.148],[64.1,-.157],[64.5,.28],[65.2,.095],[65.8,.08],[66.2,-.113],[66.7,.31],[67.4,.1],[68,.08],[68.4,-.09],[68.7,.278],[68.8,.306],[69.4,.1],[70.1,.09],[70.8,.35],[71,.293],[71.6,.12],[72.2,.125],[72.8,.31],[73,.278],[73.8,.09],[74.4,.105],[74.8,.276],[75.2,-.11],[76,.085],[76.5,.1],[76.9,.29],[77.3,-.113],[78,.085],[78.6,.095],[79.1,.24],[79.2,.252],[79.4,-.144],[79.7,-.082],[80.7,.065],[81.2,.05],[82,-.073],[82.7,.08],[83.2,.06],[83.7,.28],[83.8,.246],[84.7,.09],[85.3,.07],[85.5,-.123],[85.8,.22],[85.9,.277],[86.6,.1],[87.3,.075],[87.7,-.098],[88.1,.31],[88.85,.31],[89.3,.13],[90,.12]];
const amSemiB = [[0,.12],[.2,.13],[.4,.134],[.6,.175],[.73,.236],[.84,.313],[.95,.34],[1,.371],[1.1,.263],[1.2,.15],[1.4,.145],[1.6,.14],[1.66,.147],[1.9,.13],[2,.188],[2.1,.241],[2.2,.22],[2.27,.11],[2.3,.02],[2.4,.06],[2.5,-.047],[2.55,-.028],[2.66,.037],[2.73,.063],[2.9,.07],[3.1,.082],[3.3,.092],[3.5,.1],[3.7,.108],[3.9,.114],[4,.13],[4.1,.155],[4.2,.178],[4.2,.229],[4.3,.08],[4.6,-.006],[4.6,-.02],[4.6,-.055],[4.7,-.015],[4.8,.035],[4.87,.063],[5,.08],[5.2,.088],[5.4,.096],[5.6,.104],[5.8,.115],[6,.125],[6.2,.14],[6.3,.225],[6.4,.19],[6.5,.16],[6.6,.04],[6.65,-.05],[6.75,-.075],[6.9,.03],[7.2,.083],[7.4,.08],[7.6,.05],[7.9,.045],[8.3,.042],[8.6,.05],[8.9,.06],[9.15,.065],[9.4,.075],[9.7,.068],[10,.05],[10.3,.042],[7.7,-.045],[8.1,-.058],[7.9,-.185],[8,-.19],[9.6,-.006],[10.4,.012],[10,-.06],[9.95,-.186],[10.6,-.07],[10.75,-.033],[10.8,.03],[10.93,.144],[11,.2],[11.04,.22],[11.2,.171],[11.2,.124],[11.5,.115],[11.8,.108],[12,.104],[12.2,.096],[12.4,.09],[12.6,.086],[12.9,.083],[12.5,.068],[12.5,.047],[12.7,.012],[12.9,-.009],[12.6,.046],[12.8,-.05],[13.1,.162],[13.2,.246],[13.25,.2],[13.4,.139],[13.6,.125],[13.9,.115],[14.2,.108],[14.5,.1],[14.7,.098],[14.7,.07],[14.8,.042],[15,.023],[15,-.03],[15,-.036],[15.2,.198],[15.3,.25],[15.3,.224],[15.4,.175],[15.6,.12],[15.9,.112],[16.1,.109],[16.3,.115],[16.5,.13],[16.6,.236],[16.8,.352],[17,.34],[17.1,.24],[17.2,.2],[17.35,.2],[17.5,.167],[17.7,.14],[17.9,.13],[18.1,.13],[18.2,.125],[18.4,.157],[18.5,.185],[18.7,.203],[18.8,.244],[18.8,.333],[18.9,.423],[19,.414],[19.15,.28],[19.2,.3],[19.2,.144],[19.4,.244],[19.5,.098],[19.6,-.016],[19.8,.032],[19.85,.068],[20,.098],[20.4,.1],[20.7,.105],[21,.12],[21.1,.142],[21.3,.19],[21.3,.246],[21.4,.22],[21.4,.172],[21.6,.065],[21.7,.002],[21.6,0],[21.9,.05],[22,.083],[22.3,.09],[22.7,.104],[23,.115],[23.3,.142],[23.35,.19],[23.5,.245],[23.6,.216],[23.7,.13],[23.8,.05],[24,.032],[24,-.014],[24.1,.073],[24.3,.098],[24.6,.105],[25,.105],[25.4,.098],[25.6,.133],[25.7,.012],[25.85,-.085],[25.9,-.25],[26,-.117],[26.1,-.09],[26.2,-.043],[26.3,.007],[26.3,.032],[26.6,.06],[26.8,.07],[27,.073],[27.2,.07],[27.4,.032],[27.6,-.001],[27.7,-.053],[27.8,-.137],[27.8,-.218],[27.9,-.3],[28,-.2],[28.1,-.03],[28.2,.143],[28.2,.11],[28.5,.104],[28.9,.1],[29.3,.096],[29.7,.078],[29.7,.055],[29.85,.03],[29.9,-.033],[30,-.018],[30.2,.139],[30.2,.203],[30.3,.236],[30.4,.14],[30.6,.125],[31,.11],[31.3,.104],[31.6,.1],[31.8,.098],[32,.05],[32,-.027],[32.1,-.046],[32.2,.142],[32.4,.216],[32.45,.229],[32.6,.16],[32.8,.125],[33.2,.11],[33.6,.095],[33.9,.055],[34.1,.078],[34.1,.03],[34.2,-.033],[34.3,-.02],[34.5,.188],[34.6,.272],[34.65,.231],[34.8,.32],[34.85,.407],[34.95,.422],[35,.336],[35.1,.25],[35.2,.195],[35.3,.178],[35.3,.157],[35.4,.144],[35.6,.125],[35.9,.116],[36.1,.112],[36.3,.14],[36.4,.165],[36.6,.19],[36.7,.231],[36.9,.342],[37,.315],[37.1,.241],[37.1,.175],[37.3,.14],[37.5,.124],[37.8,.11],[38.2,.098],[38.2,.14],[38.4,.172],[38.4,.208],[38.5,.257],[38.8,.03],[38.9,-.043],[39.1,.068],[39.1,.002],[39.3,.09],[39.6,.098],[40,.114],[40.4,.142],[40.5,.165],[40.5,.236],[40.65,.254],[40.7,.185],[40.9,.088],[41,-.027],[41,-.05],[41.1,.012],[41.2,.04],[41.3,.068],[41.6,.1],[42,.115],[42.3,.125],[42.5,.142],[42.7,.175],[42.7,.234],[42.7,.249],[43,.154],[43,.055],[43,-.05],[43.3,.04],[43.5,.015],[43.9,0],[44.1,-.048],[44,-.115],[44,-.183],[43.8,-.2],[44.3,.048],[44.5,.078],[44.8,.093],[45.1,.096],[45.5,.078],[45.5,.014],[45.7,-.06],[46,-.098],[45.8,-.134],[46,-.207],[46.2,.01],[46.1,.09],[46.4,.11],[46.6,.078],[46.8,.06],[47,-.06],[47,.007],[47.1,0],[47.2,.06],[47.3,.2],[47.4,.22],[47.5,.239],[47.5,.157],[47.65,.142],[47.8,.12],[48.2,.104],[48.5,.088],[48.9,.073],[49,.042],[49.2,-.05],[49.4,.01],[49.5,.206],[49.6,.253],[49.7,.222],[49.6,.18],[49.8,.13],[50,.114],[50.5,.104],[50.9,.088],[51.1,.068],[51.2,-.006],[51.3,-.024],[51.4,.042],[51.6,.106],[51.6,.249],[51.7,.235],[51.8,.223],[51.9,.16],[51.9,.13],[52.3,.13],[52.4,.142],[52.65,.18],[52.7,.225],[52.7,.36],[52.9,.347],[53,.2],[53.1,.25],[53.1,.193],[53.2,.17],[53.3,.147],[53.5,.104],[53.7,.124],[54.2,.134],[54.5,.155],[54.5,.203],[54.6,.253],[54.8,.217],[54.9,.355],[55,.25],[55.1,.178],[55.2,.155],[55.4,.147],[55.5,.194],[55.55,.235],[55.7,.22],[55.6,.13],[55.8,.037],[56,-.02],[56.2,.06],[56.5,.088],[56.9,.093],[57.2,.109],[57.6,.144],[57.6,.193],[57.75,.229],[57.75,.2],[57.9,.078],[58.1,.024],[58.1,-.035],[58.6,.09],[58.9,.096],[59.3,.109],[59.6,.13],[59.8,.159],[59.9,.232],[59.9,.19],[60,.177],[60,.083],[60.2,-.002],[60.3,-.065],[60.3,-.03],[60.5,.058],[60.6,.088],[61,.093],[61.5,.073],[61.6,.058],[61.7,.03],[61.7,-.045],[61.8,-.076],[62,-.104],[61.9,-.175],[62.3,.004],[62.3,.022],[62.3,.042],[62.9,.078],[63.2,.083],[63.4,.042],[63.6,.058],[63.6,-.009],[63.8,-.077],[64.2,-.067],[64,-.173],[63.9,-.187],[64.2,.007],[64.1,.158],[64.5,.18],[64.6,.225],[64.65,.124],[64.8,.137],[65.2,.106],[65.7,.098],[66.1,.073],[66.2,.024],[66.3,-.02],[66.4,.058],[66.5,.158],[66.7,.245],[66.8,.218],[66.8,.182],[66.9,.14],[66.95,.124],[67.5,.109],[68,.093],[68.2,.08],[68.4,.035],[68.4,.014],[68.4,-.007],[68.5,-.004],[68.7,.203],[68.8,.233],[68.9,.206],[69,.171],[69,.138],[69.25,.114],[69.8,.098],[70.3,.104],[70.5,.088],[70.6,.042],[70.7,.23],[70.8,.416],[70.9,.43],[71,.318],[71.1,.243],[71.2,.212],[71.2,.172],[71.4,.155],[71.7,.124],[72,.13],[72.1,.13],[72.3,.167],[72.4,.2],[72.55,.246],[72.6,.323],[72.8,.333],[72.8,.434],[72.9,.41],[73,.166],[73.2,.098],[73.3,.083],[73.9,.104],[74.4,.114],[74.7,.137],[74.75,.18],[74.8,.226],[74.85,.234],[75,.208],[75,.058],[75.3,.024],[75.2,-.004],[75.3,-.036],[75.6,.08],[76.2,.098],[76.5,.109],[76.9,.124],[76.9,.165],[76.95,.223],[77,.231],[77.2,.143],[77.2,.037],[77.4,.06],[77.4,-.03],[77.6,.02],[78,.093],[78.5,.104],[79,.116],[79,.137],[79,.157],[79.1,.21],[79.25,.205],[79.3,.088],[79.3,-.006],[79.5,-.02],[79.5,-.096],[79.7,-.135],[79.9,-.142],[79.9,-.224],[79.7,-.25],[80.1,-.06],[80.2,.022],[80.3,.042],[80.7,.073],[81,.083],[81.3,.058],[81.4,.014],[81.5,-.006],[81.7,-.11],[81.75,-.045],[81.8,-.18],[81.9,-.196],[82.1,-.043],[82.1,.027],[82.2,.073],[82.7,.088],[83.2,.07],[83.2,.03],[83.3,-.019],[83.4,-.036],[83.4,-.073],[83.7,.175],[83.8,.23],[83.9,.186],[83.95,.157],[84.1,.13],[84.3,.104],[84.8,.093],[85.4,.073],[85.5,.024],[85.6,-.046],[85.9,.19],[86,.243],[86.1,.195],[86.2,.15],[86.2,.124],[86.7,.104],[87.3,.083],[87.5,.06],[87.7,.027],[87.7,-.01],[87.8,-.048],[88,.125],[88,.22],[88.2,.253],[88.2,.2],[88.2,.16],[88.8,.388],[88.85,.355],[88.9,.23],[89,.241],[89.1,.208],[89.1,.167],[89.4,.13],[90,.126]];

/* ---------- drawing ---------- */
const SVGNS = 'http://www.w3.org/2000/svg';

function xAxisA(v){ return 245.5 + v * (1608.5 / 90); }
function yAxisA(v){ return 676 - v * 374.3; }
function xAxisB(v){ return 2235 + v * (1609 / 90); }
function yAxisB(v){ return 761.8 - v * 998.4; }

function starPoints(cx, cy, r){
  const pts = [];
  for(let i = 0; i < 10; i++){
    const rad = i % 2 === 0 ? r : r * 0.45;
    const ang = -Math.PI / 2 + i * Math.PI / 5;
    pts.push((cx + rad * Math.cos(ang)).toFixed(1) + ',' + (cy + rad * Math.sin(ang)).toFixed(1));
  }
  return pts.join(' ');
}

function drawLine(parent, series, xf, yf, stroke, width, dash, name){
  const el = document.createElementNS(SVGNS, 'polyline');
  el.setAttribute('points', series.map(p => xf(p[0]).toFixed(1) + ',' + yf(p[1]).toFixed(1)).join(' '));
  el.setAttribute('fill', 'none');
  el.setAttribute('stroke', stroke);
  el.setAttribute('stroke-width', width);
  el.setAttribute('stroke-linejoin', 'round');
  if(dash){ el.setAttribute('stroke-dasharray', dash); }
  
  
  parent.appendChild(el);
}

function drawStars(parent, series, xf, yf, r, name){
  const g = document.createElementNS(SVGNS, 'g');
  
  
  series.forEach(p => {
    const s = document.createElementNS(SVGNS, 'polygon');
    s.setAttribute('points', starPoints(xf(p[0]), yf(p[1]), r));
    s.setAttribute('fill', '#ff0000');
    s.setAttribute('stroke', '#ff0000');
    s.setAttribute('stroke-width', '1.5');
    
    
    g.appendChild(s);
  });
  parent.appendChild(g);
}

function drawDots(parent, series, xf, yf, r, name){
  const g = document.createElementNS(SVGNS, 'g');
  
  
  series.forEach(p => {
    const c = document.createElementNS(SVGNS, 'circle');
    c.setAttribute('cx', xf(p[0]).toFixed(1));
    c.setAttribute('cy', yf(p[1]).toFixed(1));
    c.setAttribute('r', r);
    c.setAttribute('fill', '#0000ff');
    
    
    g.appendChild(c);
  });
  parent.appendChild(g);
}

function tickMark(parent, x1, y1, x2, y2, name){
  const t = document.createElementNS(SVGNS, 'line');
  t.setAttribute('x1', x1);
  t.setAttribute('y1', y1);
  t.setAttribute('x2', x2);
  t.setAttribute('y2', y2);
  t.setAttribute('stroke', '#000');
  t.setAttribute('stroke-width', '5.5');
  
  
  parent.appendChild(t);
}

function tickLabel(parent, x, y, str, size, anchor, name){
  const t = document.createElementNS(SVGNS, 'text');
  t.setAttribute('x', x);
  t.setAttribute('y', y);
  t.setAttribute('font-size', size);
  t.setAttribute('text-anchor', anchor);
  
  
  t.textContent = str;
  parent.appendChild(t);
}

function fmt(v, digits){
  const s = Math.abs(v).toFixed(digits);
  return v < 0 ? '\u2212' + s : s;
}

function drawAxes(parent, xf, yf, yMajor, yMinor, left, bottom, ySize, xSize, yLabelX, xLabelY){
  xTickValues.forEach(v => {
    tickMark(parent, xf(v), bottom, xf(v), bottom - 27.5, 'x-major-tick');
    tickLabel(parent, xf(v) + 1, xLabelY, String(v), xSize, 'middle', 'x-tick-label');
  });
  xMinorValues.forEach(v => {
    tickMark(parent, xf(v), bottom, xf(v), bottom - 14, 'x-minor-tick');
  });
  yMajor.forEach(v => {
    tickMark(parent, left, yf(v), left + 28, yf(v), 'y-major-tick');
    tickLabel(parent, yLabelX, yf(v) + 21, fmt(v, 1), ySize, 'end', 'y-tick-label');
  });
  yMinor.forEach(v => {
    tickMark(parent, left, yf(v), left + 15, yf(v), 'y-minor-tick');
  });
}

const plotA = document.getElementById('plotA');
drawLine(plotA, femAsymA, xAxisA, yAxisA, '#000', 9, '12 4', 'fem-asymmetric-line-a');
drawLine(plotA, femSemiA, xAxisA, yAxisA, '#ff8000', 6, null, 'fem-semi-closed-line-a');
drawStars(plotA, amAsymA, xAxisA, yAxisA, 16.5, 'am-asymmetric-points-a');
drawDots(plotA, amSemiA, xAxisA, yAxisA, 13, 'am-semi-closed-points-a');
drawAxes(document.getElementById('axesA'), xAxisA, yAxisA, yTicksA, yMinorA, 245.5, 1274.5, 72, 68, 212, 1337);

const plotB = document.getElementById('plotB');
drawLine(plotB, femAsymB, xAxisB, yAxisB, '#000', 10, '12 4', 'fem-asymmetric-line-b');
drawLine(plotB, femSemiB, xAxisB, yAxisB, '#ff8000', 7, null, 'fem-semi-closed-line-b');
drawStars(plotB, amAsymB, xAxisB, yAxisB, 10.5, 'am-asymmetric-points-b');
drawDots(plotB, amSemiB, xAxisB, yAxisB, 8.8, 'am-semi-closed-points-b');
drawAxes(document.getElementById('axesB'), xAxisB, yAxisB, yTicksB, yMinorB, 2235, 1261, 70, 66, 2192, 1321);

document.getElementById('legendStarA').setAttribute('points', starPoints(385, 219, 15.5));
document.getElementById('legendStarB').setAttribute('points', starPoints(2362, 223.5, 9));
</script>
</body>
</html>
